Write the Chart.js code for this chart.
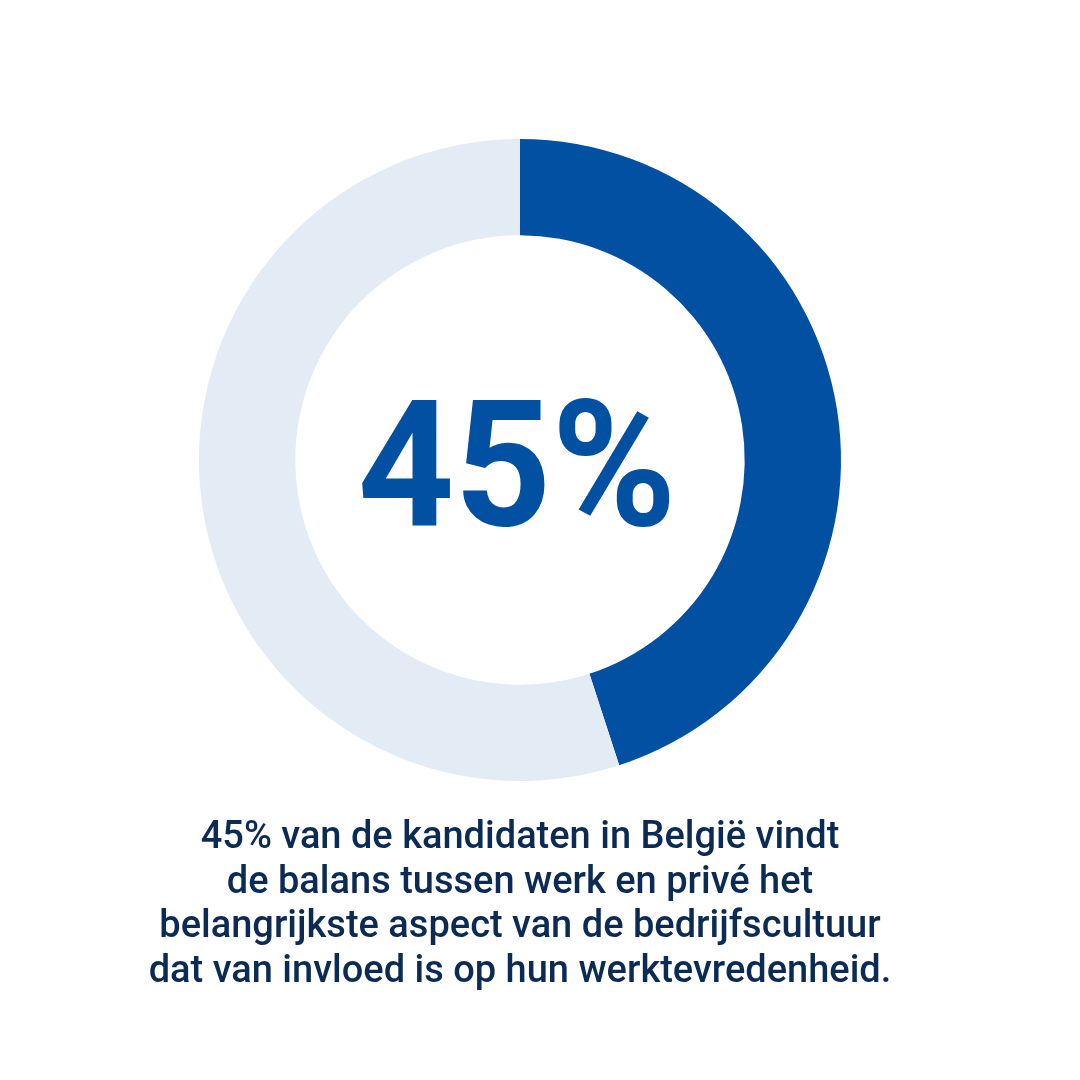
<!DOCTYPE html>
<html>
<head>
<meta charset="UTF-8">
<title>Werk-privébalans</title>
<script src="https://cdn.jsdelivr.net/npm/chart.js@4.4.1/dist/chart.umd.min.js"></script>
<style>
	html, body { margin: 0; padding: 0; background: #ffffff; }
	#container { width: 1080px; height: 1080px; position: relative; }
</style>
</head>
<body>
<div id="container">
	<canvas id="donut" width="1080" height="1080"></canvas>
</div>
<script>

var labels = ['Balans werk en privé', 'Overige'];
var values = [45, 55];
var colors = ['#0250a2', '#e3ebf4'];
var centerText = '45%';
var caption = [
	'45% van de kandidaten in België vindt',
	'de balans tussen werk en privé het',
	'belangrijkste aspect van de bedrijfscultuur',
	'dat van invloed is op hun werktevredenheid.'
];

// tekst in het midden en onderschrift
var textPlugin = {
	id: 'textPlugin',
	afterDraw: function(chart) {
		var ctx = chart.ctx;
		var meta = chart.getDatasetMeta(0).data[0];
		ctx.save();
		ctx.textAlign = 'center';
		ctx.textBaseline = 'alphabetic';
		ctx.fillStyle = '#0250a2';
		ctx.font = 'bold 176px Roboto';
		ctx.save();
		ctx.translate(meta.x - 3, 525);
		ctx.scale(0.96, 1); // iets smaller zoals het origineel
		ctx.fillText(centerText, 0, 0);
		ctx.restore();

		ctx.fillStyle = '#0c2b54';
		ctx.font = '500 38px Roboto';
		for (var i = 0; i < caption.length; i++) {
			ctx.fillText(caption[i], meta.x, 848 + i * 44.5);
		}
		ctx.restore();
	}
};

window.onload = function() {
	var ctx = document.getElementById('donut').getContext('2d');
	window.myDonut = new Chart(ctx, {
		type: 'doughnut',
		data: {
			labels: labels,
			datasets: [{
				data: values,
				backgroundColor: colors,
				borderWidth: 0
			}]
		},
		options: {
			responsive: false,
			animation: false,
			cutout: '70%',
			layout: { padding: { left: 199, right: 239, top: 139, bottom: 299 } },
			plugins: {
				legend: { display: false },
				tooltip: { enabled: false }
			}
		},
		plugins: [textPlugin]
	});
};
</script>
</body>
</html>
